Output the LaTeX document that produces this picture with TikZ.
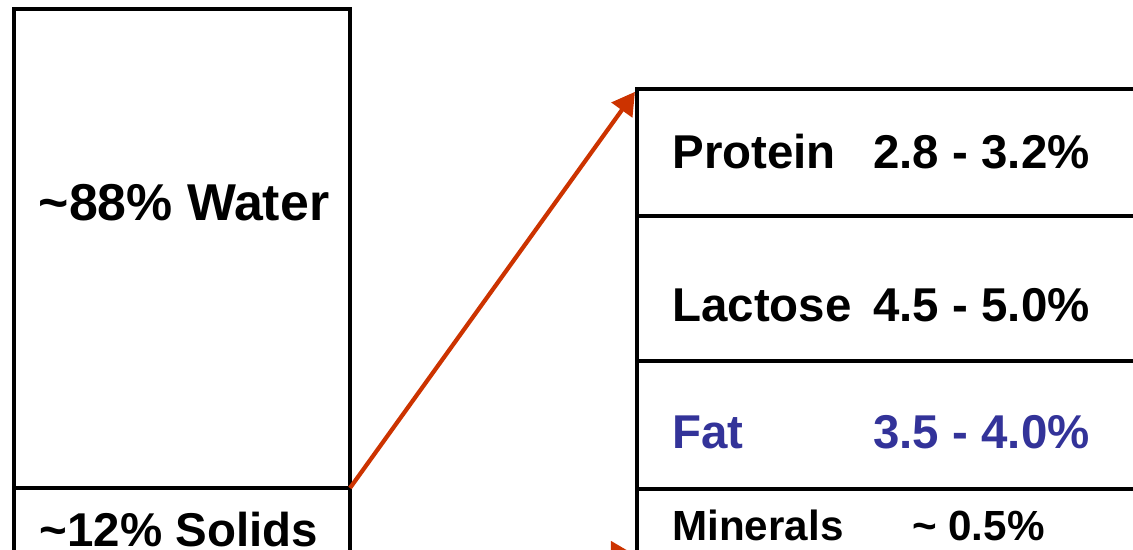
\documentclass[tikz,border=0pt]{standalone}
\usepackage{fontspec}
\setmainfont{Liberation Sans}
\usetikzlibrary{arrows.meta, positioning}
\definecolor{arrowred}{HTML}{CC3300}
\definecolor{fatblue}{HTML}{333399}

\begin{document}
\begin{tikzpicture}[
  cell/.style={draw=black, line width=2.1pt, minimum width=10.76cm, inner sep=0pt, outer sep=0pt},
  lbox/.style={draw=black, line width=2.1pt, minimum width=6.72cm, inner sep=0pt, outer sep=0pt},
  txt/.style={font=\fontsize{27}{30}\selectfont\bfseries, inner sep=0pt},
  small/.style={font=\fontsize{24}{28}\selectfont\bfseries, inner sep=0pt},
  arr/.style={-{Triangle[length=0.45cm, width=0.5cm]}, line width=2.4pt, color=arrowred, shorten >=2pt}
]
\clip (0,0) rectangle (22.66,11);

% left column: water and solids
\node[lbox, minimum height=9.58cm, anchor=north west] (water) at (0.28,10.82) {};
\node[lbox, minimum height=1.32cm, below=0pt of water] (solids) {};
\node[txt, font=\fontsize{29.5}{32}\selectfont\bfseries, anchor=base] (waterlbl) at (3.68,6.58) {\textasciitilde88\% Water};
\node[txt, anchor=base] (solidslbl) at (3.58,0.06) {\textasciitilde12\% Solids};

% right column: the solids broken down
\node[cell, minimum height=2.54cm, anchor=north west] (protein) at (12.74,9.22) {};
\node[cell, minimum height=2.90cm, below=0pt of protein] (lactose) {};
\node[cell, minimum height=2.56cm, below=0pt of lactose] (fat) {};
\node[cell, minimum height=1.30cm, below=0pt of fat] (minerals) {};

\node[txt, anchor=base west] (proteinlbl) at (13.44,7.62) {Protein};
\node[txt, anchor=base east] (proteinval) at (21.80,7.62) {2.8 - 3.2\%};
\node[txt, anchor=base west] (lactoselbl) at (13.44,4.56) {Lactose};
\node[txt, anchor=base east] (lactoseval) at (21.80,4.56) {4.5 - 5.0\%};
\node[txt, text=fatblue, anchor=base west] (fatlbl) at (13.44,2.02) {Fat};
\node[txt, text=fatblue, anchor=base east] (fatval) at (21.80,2.02) {3.5 - 4.0\%};
\node[small, anchor=base west] (minerallbl) at (13.44,0.18) {Minerals};
\node[small, anchor=base east] (mineralval) at (20.90,0.18) {\textasciitilde{} 0.5\%};

\draw[arr] (water.south east) -- (protein.north west);
\draw[arr] (solids.south east) -- (minerals.south west);
\end{tikzpicture}
\end{document}
